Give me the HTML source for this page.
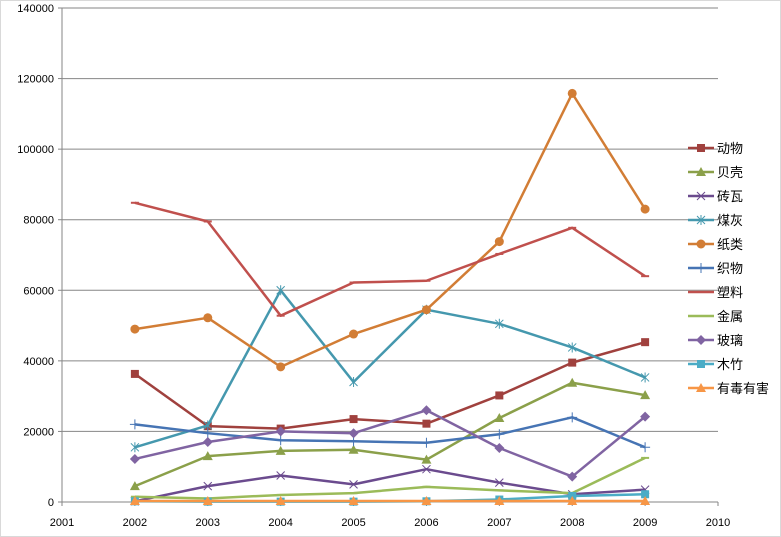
<!DOCTYPE html>
<html><head><meta charset="utf-8"><style>
body{margin:0;background:#fff;}
svg{display:block;font-family:"Liberation Sans","Noto Sans CJK SC",sans-serif;}
</style></head><body>
<svg id="c" width="781" height="537" xmlns="http://www.w3.org/2000/svg">
<rect x="0.5" y="0.5" width="780" height="536" fill="#fff" stroke="#d9d9d9"/>
<g id="g"></g>
</svg>
<script>
const g=document.getElementById('g');let s='';
const X0=62,X1=718,Y0=502,Y1=8;
const xp=i=>X0+(X1-X0)*i/9, yp=v=>Y0-(Y0-Y1)*v/140000;
for(let v=20000;v<=140000;v+=20000){s+=`<line x1="${X0}" x2="${X1}" y1="${yp(v)}" y2="${yp(v)}" stroke="#868686" stroke-width="1"/>`;}
s+=`<line x1="${X0}" x2="${X0}" y1="${Y1}" y2="${Y0+4}" stroke="#868686"/>`;
s+=`<line x1="${X0-4}" x2="${X1}" y1="${Y0}" y2="${Y0}" stroke="#868686"/>`;
for(let v=0;v<=140000;v+=20000){s+=`<line x1="${X0-4}" x2="${X0}" y1="${yp(v)}" y2="${yp(v)}" stroke="#868686"/><text x="${X0-8}" y="${yp(v)+4}" font-size="11" text-anchor="end">${v}</text>`;}
for(let i=0;i<=9;i++){s+=`<line x1="${xp(i)}" x2="${xp(i)}" y1="${Y0}" y2="${Y0+4}" stroke="#868686"/><text x="${xp(i)}" y="${Y0+24}" font-size="11" text-anchor="middle">${2001+i}</text>`;}
const S=[
["动物","#A0413E","sq",[36300,21500,20800,23500,22200,30200,39500,45300]],
["贝壳","#8BA04A","tri",[4500,13000,14500,14800,12000,23800,33800,30300]],
["砖瓦","#6B4B8E","x",[200,4500,7500,5000,9300,5500,2200,3500]],
["煤灰","#4598AE","star",[15500,21700,60000,34000,54500,50500,43800,35300]],
["纸类","#D27D35","circ",[49000,52200,38300,47600,54500,73800,115800,83000]],
["织物","#4674B4","plus",[22000,19500,17500,17200,16800,19200,24000,15500]],
["塑料","#C0504D","dash",[84800,79500,52800,62200,62700,70300,77700,64000]],
["金属","#9BBB59","dash",[1500,1000,2000,2500,4300,3300,2500,12500]],
["玻璃","#8064A2","dia",[12200,17000,20000,19500,26000,15300,7200,24200]],
["木竹","#4BACC6","sq",[200,100,100,100,200,700,1700,2200]],
["有毒有害","#F79646","tri",[300,300,300,300,300,300,300,300]]];
function mk(t,c,x,y){
 if(t=="sq")return `<rect x="${x-4}" y="${y-4}" width="8" height="8" fill="${c}"/>`;
 if(t=="tri")return `<polygon points="${x},${y-5} ${x+5},${y+4} ${x-5},${y+4}" fill="${c}"/>`;
 if(t=="circ")return `<circle cx="${x}" cy="${y}" r="4.5" fill="${c}"/>`;
 if(t=="dia")return `<polygon points="${x},${y-5} ${x+5},${y} ${x},${y+5} ${x-5},${y}" fill="${c}"/>`;
 if(t=="x")return `<path d="M${x-4} ${y-4}L${x+4} ${y+4}M${x-4} ${y+4}L${x+4} ${y-4}" stroke="${c}" stroke-width="1"/>`;
 if(t=="star")return `<path d="M${x-4} ${y-4}L${x+4} ${y+4}M${x-4} ${y+4}L${x+4} ${y-4}M${x} ${y-5}V${y+5}" stroke="${c}" stroke-width="1"/>`;
 if(t=="plus")return `<path d="M${x-5} ${y}H${x+5}M${x} ${y-5}V${y+5}" stroke="${c}" stroke-width="1"/>`;
 if(t=="dash")return `<path d="M${x-4} ${y}H${x+4}" stroke="${c}" stroke-width="2"/>`;
 return '';
}
S.forEach((d,k)=>{
 const pts=d[3].map((v,i)=>[xp(i+1),yp(v)]);
 s+=`<polyline fill="none" stroke="${d[1]}" stroke-width="2.5" stroke-linejoin="round" points="${pts.map(p=>p.join(',')).join(' ')}"/>`;
 pts.forEach(p=>s+=mk(d[2],d[1],p[0],p[1]));
 const ly=148+24*k;
 s+=`<line x1="688" x2="714" y1="${ly}" y2="${ly}" stroke="${d[1]}" stroke-width="2.5"/>`+mk(d[2],d[1],701,ly);
 s+=`<text x="717" y="${ly+5}" font-size="13">${d[0]}</text>`;
});
g.innerHTML=s;
</script>
</body></html>
